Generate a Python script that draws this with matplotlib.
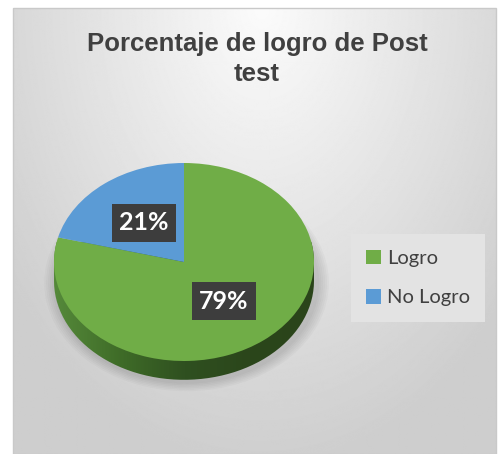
import numpy as np
import matplotlib.pyplot as plt
from matplotlib.patches import PathPatch, Rectangle
from matplotlib.path import Path
from matplotlib.colors import LinearSegmentedColormap

# Datos del gráfico
categorias = ['Logro', 'No Logro']
porcentajes = [79, 21]
colores = ['#70ad47', '#5b9bd5']
titulo = 'Porcentaje de logro de Post\ntest'

W, H = 498, 454
fig = plt.figure(figsize=(W / 100, H / 100), dpi=100)

# Fondo con degradado (zona del gráfico)
bg = fig.add_axes([0, 0, 1, 1])
bg.set_xlim(0, W)
bg.set_ylim(H, 0)
bg.axis('off')
yy, xx = np.mgrid[0:H, 0:W]
dist = np.sqrt(((xx - 256) / 330.0) ** 2 + (yy / 470.0) ** 2)
grad = 0.985 - 0.18 * np.clip(dist, 0, 1)
bg.imshow(grad, cmap='gray', vmin=0, vmax=1, extent=(13, 496, H, 8),
          interpolation='bilinear', aspect='auto')
bg.add_patch(Rectangle((13, 8), 483, H - 8, fill=False, ec='#c9c9c9', lw=1))

# Título
fig.text(257 / W, 1 - 32 / H, titulo, ha='center', va='top',
         fontsize=18.5, fontweight='bold', color='#404040',
         family='Liberation Sans', linespacing=1.32)

# Ejes del pastel (elipse aplanada para simular 3D)
cx, cy, rx, ry = 184, 262, 130, 99
ax = fig.add_axes([(cx - 1.25 * rx) / W, (H - cy - 1.25 * ry) / H,
                   2.5 * rx / W, 2.5 * ry / H])
prof = 0.19

# sombra suave
for k in range(6):
    s = 0.02 + k * 0.015
    ax.add_patch(PathPatch(Path.circle((0.02, -prof - 0.02), 1 + s),
                           fc='black', ec='none', alpha=0.025, clip_on=False))

# lateral del cilindro con degradado
t1 = np.linspace(0, np.pi, 60)
t2 = np.linspace(np.pi, 2 * np.pi, 60)
pts = np.concatenate([np.c_[np.cos(t1), np.sin(t1)],
                      np.c_[np.cos(t2), np.sin(t2) - prof]])
lateral = PathPatch(Path(pts, closed=False), fc='none', ec='none')
ax.add_patch(lateral)
cmap_lat = LinearSegmentedColormap.from_list(
    'lat', ['#55893a', '#3f6c28', '#2f5020', '#2b461b', '#2a441a'])
ax.imshow(np.linspace(0, 1, 200)[None, :], cmap=cmap_lat,
          extent=(-1, 1, -1.3, 0.2), aspect='auto', clip_path=lateral,
          clip_on=True, zorder=1)

wedges, _, autotexts = ax.pie(
    porcentajes, colors=colores, startangle=90, counterclock=False,
    autopct='%1.0f%%', pctdistance=0.5,
    wedgeprops=dict(linewidth=0, zorder=2),
    textprops=dict(color='white', fontsize=18, fontweight='bold', family='Lato'))
for w in wedges:
    w.set_zorder(2)
for t in autotexts:
    t.set_zorder(5)
    t.set_bbox(dict(boxstyle='square,pad=0.3', fc='#3d3d3d', ec='none'))
ax.set_aspect('auto')
ax.set_xlim(-1.25, 1.25)
ax.set_ylim(-1.25, 1.25)
ax.axis('off')

# Leyenda
leg = fig.legend(wedges, categorias, loc='center left',
                 bbox_to_anchor=(351 / W, 1 - 278 / H),
                 prop=dict(family='Lato', size=14.5), labelcolor='#404040',
                 handlelength=0.75, handleheight=0.75, handletextpad=0.3,
                 labelspacing=1.1, frameon=True, fancybox=False,
                 borderpad=0.75, borderaxespad=0)
leg.get_frame().set_facecolor('#e3e3e3')
leg.get_frame().set_edgecolor('none')
leg.get_frame().set_alpha(1)

fig.savefig('out.png', dpi=100)
